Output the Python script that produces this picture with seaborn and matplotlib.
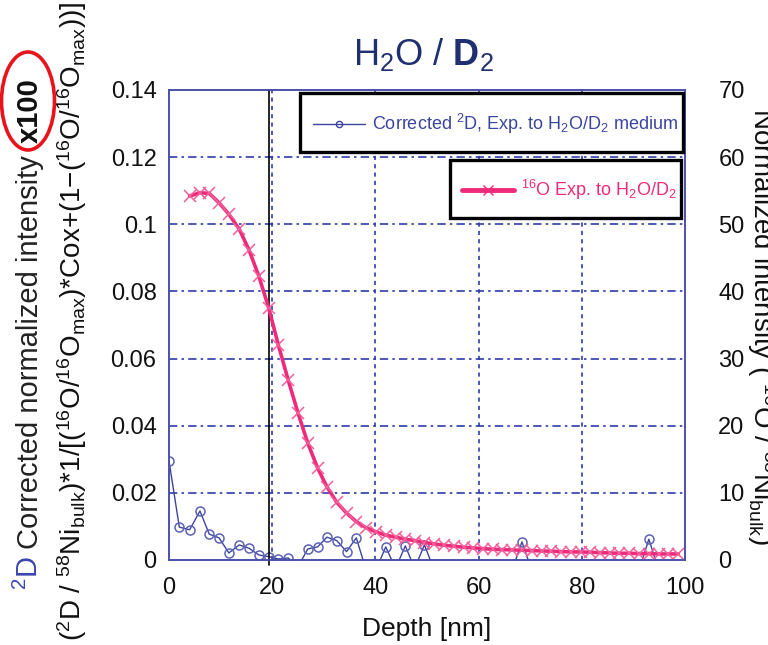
import matplotlib
matplotlib.use('Agg')

import matplotlib.pyplot as plt
from matplotlib.lines import Line2D
from matplotlib.patches import Ellipse, Rectangle
import seaborn as sns

#   Data
depth_d = [0.0, 2.0, 4.0, 6.0, 7.8, 9.7, 11.6, 13.6, 15.5, 17.4, 19.3, 21.2, 23.1,
           25.0, 26.9, 28.8, 30.6, 32.5, 34.4, 36.3, 38.2, 40.1, 42.0, 43.9, 45.8,
           47.6, 49.5, 51.4, 53.3, 55.2, 57.1, 59.0, 60.8, 62.7, 64.6, 66.5, 68.4,
           70.3, 72.2, 74.1, 76.0, 77.9, 79.8, 81.6, 83.5, 85.4, 87.3, 89.2, 91.1,
           93.0, 94.9, 96.8, 98.7]
d_corr = [0.0295, 0.0098, 0.0090, 0.0146, 0.0077, 0.0066, 0.0021, 0.0045, 0.0035,
          0.0015, 0.0010, 0.0003, 0.0006, -0.0020, 0.0033, 0.0039, 0.0068, 0.0058,
          0.0025, 0.0066, -0.0030, -0.0030, 0.0039, -0.0025, 0.0042, -0.0025, 0.0045,
          -0.0030, -0.0040, -0.0040, -0.0040, -0.0040, -0.0040, -0.0040, -0.0040,
          -0.0030, 0.0054, -0.0030, -0.0040, -0.0040, -0.0040, -0.0040, -0.0040,
          -0.0040, -0.0040, -0.0040, -0.0040, -0.0040, -0.0030, 0.0062, -0.0030,
          -0.0040, -0.0040]

depth_o = [4.0, 6.0, 7.8, 9.7, 11.6, 13.6, 15.5, 17.4, 19.3, 21.2, 23.1, 25.0, 26.9,
           28.8, 30.6, 32.5, 34.4, 36.3, 38.2, 40.1, 42.0, 43.9, 45.8, 47.6, 49.5,
           51.4, 53.3, 55.2, 57.1, 59.0, 60.8, 62.7, 64.6, 66.5, 68.4, 70.3, 72.2,
           74.1, 76.0, 77.9, 79.8, 81.6, 83.5, 85.4, 87.3, 89.2, 91.1, 93.0, 94.9,
           96.8, 98.7]
o16 = [54.2, 54.7, 54.6, 53.2, 51.5, 49.3, 46.2, 42.3, 37.6, 32.0, 26.8, 21.9, 17.4,
       13.7, 10.9, 8.6, 7.0, 5.7, 4.8, 4.2, 3.7, 3.4, 3.1, 2.9, 2.6, 2.4, 2.2, 2.05,
       1.9, 1.8, 1.7, 1.6, 1.55, 1.5, 1.45, 1.4, 1.35, 1.3, 1.25, 1.2, 1.2, 1.15,
       1.1, 1.05, 1.0, 1.0, 0.95, 0.95, 0.9, 0.9, 0.9]

x_ticks = [0, 20, 40, 60, 80, 100]
y_ticks = [0, 0.02, 0.04, 0.06, 0.08, 0.1, 0.12, 0.14]
y_labels = ['0', '0.02', '0.04', '0.06', '0.08', '0.1', '0.12', '0.14']
y2_ticks = [0, 10, 20, 30, 40, 50, 60, 70]
interface = 19.3

BLUE = '#3b44a0'
BLUE_M = '#5c62b4'
PINK = '#ee2a7b'
PINK_M = '#f2609b'
GRID = '#2f3cab'

sns.set_theme(style='white')
plt.rcParams['font.family'] = ['Liberation Sans', 'DejaVu Sans']
plt.rcParams['mathtext.fontset'] = 'custom'
plt.rcParams['mathtext.rm'] = 'Liberation Sans'
plt.rcParams['mathtext.it'] = 'Liberation Sans:italic'
plt.rcParams['mathtext.bf'] = 'Liberation Sans:bold'

fig = plt.figure(figsize=(7.68, 6.45), dpi=100)
ax = fig.add_axes([169 / 768, 1 - 560 / 645, 516 / 768, 470 / 645])

sns.lineplot(x=depth_d, y=d_corr, ax=ax, color=BLUE, lw=1, marker='o', ms=6.5,
             mfc='none', mec=BLUE_M, mew=1.1, errorbar=None, sort=False)
ax.axvline(interface, ymin=-0.01, color='black', lw=1.2, zorder=5, clip_on=False)

ax.set_xlim(0, 100)
ax.set_ylim(0, 0.14)
ax.set_xticks(x_ticks)
ax.set_yticks(y_ticks)
ax.set_yticklabels(y_labels)
ax.tick_params(axis='both', length=0, labelsize=17, colors='#111111')
ax.tick_params(axis='y', pad=9)
ax.tick_params(axis='x', pad=12)
ax.set_xlabel('Depth [nm]', fontsize=19, color='#111111', labelpad=13)
ax.set_ylabel('')

# dash-dot grid, dotted verticals
for yv in y_ticks[1:-1]:
    ax.axhline(yv, color=GRID, lw=1.2, ls=(0, (5, 2.5, 1.5, 2.5)), zorder=0)
for xv in x_ticks[1:-1]:
    ax.axvline(xv, color=GRID, lw=1.2, ls=(0, (2.5, 2.5)), zorder=0)

ax2 = ax.twinx()
sns.lineplot(x=depth_o, y=o16, ax=ax2, color=PINK, lw=2.6, marker='x', ms=8,
             mec=PINK_M, mew=1.1, errorbar=None, sort=False)
ax2.set_ylim(0, 70)
ax2.set_yticks(y2_ticks)
ax2.tick_params(axis='y', length=0, labelsize=17, colors='#111111', pad=24)
ax2.set_ylabel('')

for a in (ax, ax2):
    for s in a.spines.values():
        s.set_color('#4a50aa')
        s.set_linewidth(1.2)

# legends: frameless, boxes drawn separately with heavy black borders
for x0, y0, x1, y1 in [(300, 93, 683, 152), (450, 160, 681, 218)]:
    fig.patches.append(Rectangle((x0 / 768, 1 - y1 / 645), (x1 - x0) / 768,
                                 (y1 - y0) / 645, transform=fig.transFigure,
                                 facecolor='white', edgecolor='black', lw=2.4,
                                 zorder=3))

h1 = Line2D([], [], color=BLUE, lw=1, marker='o', ms=4.5, mfc='none', mec=BLUE)
h2 = Line2D([], [], color=PINK, lw=3.5, marker='x', ms=7, mec=PINK, mew=1)
leg_kw = dict(loc='center left', frameon=False, fontsize=13, handlelength=2.9,
              handletextpad=0.35, borderpad=0, borderaxespad=0)
leg1 = fig.legend([h1], [r'Corrected $\mathrm{^2D}$, Exp. to $\mathrm{H_2O/D_2}$ medium'],
                  bbox_to_anchor=(313 / 768, 1 - 124 / 645), labelcolor=BLUE, **leg_kw)
leg2 = fig.legend([h2], [r'$\mathrm{^{16}O}$ Exp. to $\mathrm{H_2O/D_2}$'],
                  bbox_to_anchor=(462 / 768, 1 - 190 / 645), labelcolor=PINK, **leg_kw)
leg1.set_zorder(4)
leg2.set_zorder(4)

# title
fig.text(423 / 768, 1 - 65 / 645, r'$\mathrm{H_2O}$ / $\mathbf{D}_\mathrm{2}$',
         fontsize=26, color='#1f2f6f', ha='center', va='baseline')

# left axis labels
lab_kw = dict(rotation=90, rotation_mode='anchor', ha='left', va='baseline')
fig.text(38 / 768, 1 - 590 / 645, r'$\mathrm{^2D}$', fontsize=21, color='#3b46b0', **lab_kw)
fig.text(38 / 768, 1 - 549 / 645, 'Corrected normalized intensity', fontsize=21,
         color='#222222', **lab_kw)
fig.text(38 / 768, 1 - 143 / 645, 'x100', fontsize=21, fontweight='bold',
         color='#111111', **lab_kw)
fig.text(0.094, 0.502,
         r'$\mathrm{(^2D\ /\ ^{58}Ni_{bulk}){*}1/[(^{16}O/^{16}O_{max}){*}Cox{+}(1{-}(^{16}O/^{16}O_{max}))]}$',
         fontsize=20, color='#111111', rotation=90, ha='center', va='center')

fig.patches.append(Ellipse((28 / 768, 1 - 101 / 645), 53 / 768, 98 / 645,
                           transform=fig.transFigure, fill=False,
                           edgecolor='#e8141c', lw=2.6))

# right axis label (runs off the edge as in the original)
fig.text(753 / 768, 1 - 108 / 645,
         r'Normalized intensity ( $\mathrm{^{16}O\ /\ ^{58}Ni_{bulk}}$)',
         fontsize=20, color='#111111', rotation=270, rotation_mode='anchor',
         ha='left', va='baseline')

fig.savefig('out.png', dpi=100)
